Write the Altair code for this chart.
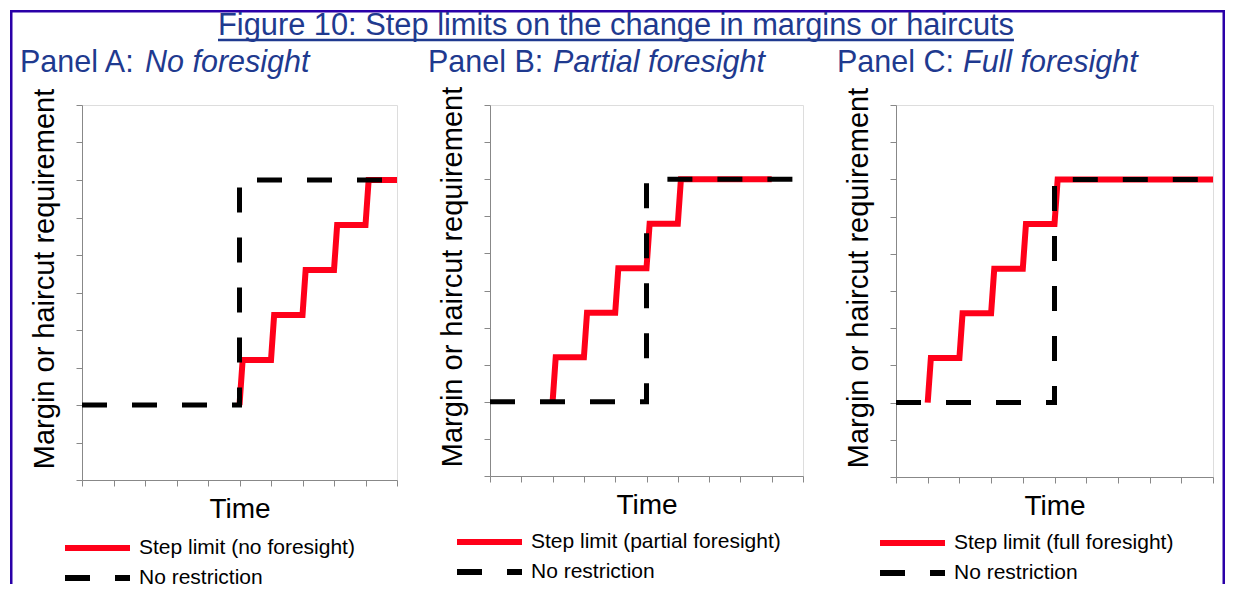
import altair as alt
import pandas as pd

# ---------------- data ----------------
figure_title = "Figure 10: Step limits on the change in margins or haircuts"
panel_labels = ["Panel A:", "Panel B:", "Panel C:"]
panel_names = ["No foresight", "Partial foresight", "Full foresight"]
step_labels = ["Step limit (no foresight)", "Step limit (partial foresight)", "Step limit (full foresight)"]
no_restriction_label = "No restriction"
x_title = "Time"
y_title = "Margin or haircut requirement"

step_time_a = [5, 5.1, 6, 6.1, 7, 7.1, 8, 8.1, 9, 9.1, 10]
step_time_b = [2, 2.1, 3, 3.1, 4, 4.1, 5, 5.1, 6, 6.1, 9]
step_time_c = [1, 1.1, 2, 2.1, 3, 3.1, 4, 4.1, 5, 5.1, 10]
step_level = [2, 3.2, 3.2, 4.4, 4.4, 5.6, 5.6, 6.8, 6.8, 8, 8]

no_restriction_time = [0, 5, 5, 10]
no_restriction_level = [2, 2, 8, 8]

axis_ticks = list(range(11))

# ---------------- styles / layout ----------------
FONT = "Liberation Sans"
TITLE_BLUE = "#1F3A8F"
FRAME = "#2A00A8"
AXIS_GREY = "#878787"
RED = "#FF0019"

layout = [
    # width, height, y-title center, legend x, legend y, label x, italic x
    dict(w=315, h=375, ty=173.5, lx=-20, ly=432, px=-62, ix=63),
    dict(w=313, h=371, ty=171.5, lx=-36, ly=426, px=-62, ix=63),
    dict(w=317, h=372, ty=172.5, lx=-19, ly=427, px=-59, ix=67),
]
step_times = [step_time_a, step_time_b, step_time_c]

one_row = pd.DataFrame({"k": [0]})


def make_panel(i):
    L = layout[i]
    times = step_times[i]
    step_df = pd.DataFrame({"t": times, "v": step_level,
                            "series": step_labels[i], "i": list(range(len(times)))})
    nr_df = pd.DataFrame({"t": no_restriction_time, "v": no_restriction_level,
                          "series": no_restriction_label,
                          "i": list(range(len(no_restriction_time)))})
    domain = [step_labels[i], no_restriction_label]
    legend = alt.Legend(orient="none", legendX=L["lx"], legendY=L["ly"], title=None,
                        symbolType="stroke", symbolSize=4225, symbolStrokeWidth=6,
                        labelFont=FONT, labelFontSize=21, labelColor="black",
                        labelOffset=6, rowPadding=8, padding=0, labelLimit=500,
                        clipHeight=22, symbolOffset=0, direction="vertical")
    x = alt.X("t:Q", scale=alt.Scale(domain=[0, 10], nice=False, zero=False),
              axis=alt.Axis(values=axis_ticks, labels=False, grid=False, tickSize=6,
                            title=x_title, titleY=37, titleBaseline="alphabetic",
                            titleFontSize=28, titleFontWeight="normal", titleFont=FONT,
                            titleColor="black"))
    y = alt.Y("v:Q", scale=alt.Scale(domain=[0, 10], nice=False, zero=False),
              axis=alt.Axis(values=axis_ticks, labels=False, grid=False, tickSize=6,
                            title=y_title, titleX=-28.5, titleY=L["ty"], titleAngle=270,
                            titleAlign="center", titleBaseline="alphabetic",
                            titleFontSize=29, titleFontWeight="normal", titleFont=FONT,
                            titleColor="black"))
    color = alt.Color("series:N", scale=alt.Scale(domain=domain, range=[RED, "#000000"]),
                      legend=legend)
    dash = alt.StrokeDash("series:N", scale=alt.Scale(domain=domain, range=[[1, 0], [25, 25]]),
                          legend=legend)
    order = alt.Order("i:Q")

    red = alt.Chart(step_df).mark_line(strokeWidth=6, strokeCap="butt", strokeJoin="miter").encode(
        x=x, y=y, color=color, strokeDash=dash, order=order)
    black = alt.Chart(nr_df).mark_line(strokeWidth=5, strokeCap="butt").encode(
        x=x, y=y, color=color, strokeDash=dash, order=order)

    plabel = alt.Chart(one_row).mark_text(text=panel_labels[i], align="left", baseline="alphabetic",
                                           font=FONT, fontSize=30.5, color=TITLE_BLUE).encode(
        x=alt.value(L["px"]), y=alt.value(-33))
    pname = alt.Chart(one_row).mark_text(text=panel_names[i], align="left", baseline="alphabetic",
                                          font=FONT, fontSize=30.5, fontStyle="italic",
                                          color=TITLE_BLUE).encode(
        x=alt.value(L["ix"]), y=alt.value(-33))
    layers = [red, black, plabel, pname]

    if i == 0:
        title = alt.Chart(one_row).mark_text(text=figure_title, align="center", baseline="alphabetic",
                                              font=FONT, fontSize=30.8, color=TITLE_BLUE).encode(
            x=alt.value(534), y=alt.value(-70))
        underline = alt.Chart(one_row).mark_rule(color=TITLE_BLUE, strokeWidth=2.5).encode(
            x=alt.value(136), x2=alt.value(932), y=alt.value(-65))
        top_border = alt.Chart(one_row).mark_rule(color=FRAME, strokeWidth=2.5).encode(
            x=alt.value(-72), x2=alt.value(1143), y=alt.value(-93.75))
        left_border = alt.Chart(one_row).mark_rule(color=FRAME, strokeWidth=2.5).encode(
            x=alt.value(-70.75), y=alt.value(-95), y2=alt.value(479))
        right_border = alt.Chart(one_row).mark_rule(color=FRAME, strokeWidth=2.5).encode(
            x=alt.value(1141.75), y=alt.value(-95), y2=alt.value(479))
        layers += [top_border, left_border, right_border, title, underline]

    return alt.layer(*layers).properties(width=L["w"], height=L["h"])


chart = alt.hconcat(make_panel(0), make_panel(1), make_panel(2), spacing=93, bounds="flush").resolve_scale(
    color="independent", strokeDash="independent", x="independent", y="independent"
).properties(padding=0).configure_view(strokeWidth=0).configure_axis(
    domainColor=AXIS_GREY, domainWidth=2, tickColor=AXIS_GREY, tickWidth=1.5,
    titleFont=FONT, titleFontWeight="normal", titleColor="black"
).configure(font=FONT)

chart.save("out.html", embed_options={"renderer": "svg", "actions": False})
